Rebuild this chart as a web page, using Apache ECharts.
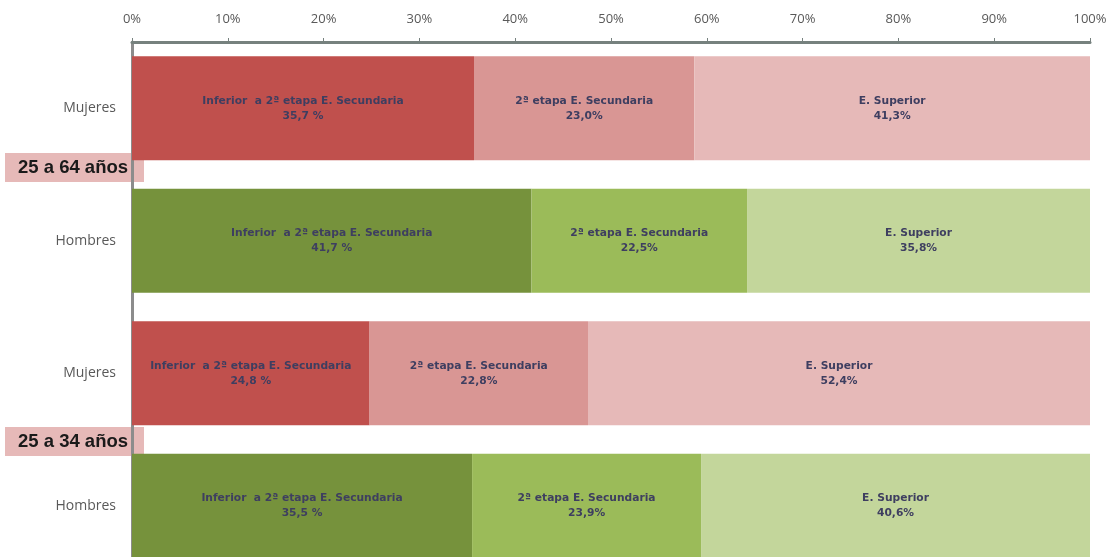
<!DOCTYPE html>
<html><head><meta charset="utf-8">
<script src="https://cdn.jsdelivr.net/npm/echarts@6/dist/echarts.min.js"></script>
<style>html,body{margin:0;padding:0;background:#fff;overflow:hidden;height:557px}#c{width:1110px;height:572px}</style>
</head><body><div id="c"></div>
<script>
const categories = ['Mujeres', 'Hombres', 'Mujeres', 'Hombres'];
const groupLabels = ['25 a 64 años', '25 a 34 años'];
const segmentNames = ['Inferior  a 2ª etapa E. Secundaria', '2ª etapa E. Secundaria', 'E. Superior'];
const inferior = [35.7, 41.7, 24.8, 35.5];
const segunda = [23.0, 22.5, 22.8, 23.9];
const superior = [41.3, 35.8, 52.4, 40.6];

const redShades = ['#C0504D', '#D99694', '#E6B9B8'];
const greenShades = ['#76923C', '#9BBB59', '#C3D69B'];

function fmt(v, space) { return v.toFixed(1).replace('.', ',') + (space ? ' %' : '%'); }

const seriesData = [inferior, segunda, superior];
const series = seriesData.map((arr, si) => ({
  type: 'bar', stack: 'total', name: segmentNames[si],
  barCategoryGap: '21.5%',
  data: arr.map((v, i) => ({
    value: v,
    itemStyle: { color: (categories[i] === 'Mujeres' ? redShades : greenShades)[si] }
  })),
  label: {
    show: true, position: 'inside',
    formatter: p => segmentNames[si] + '\n' + fmt(p.value, si === 0),
    color: '#3E3E60', fontSize: 10.7, fontWeight: 'bold', lineHeight: 15,
    fontFamily: 'DejaVu Sans, Verdana, sans-serif'
  }
}));

const chart = echarts.init(document.getElementById('c'));
chart.setOption({
  animation: false,
  grid: { left: 132, right: 20, top: 42, bottom: 0 },
  xAxis: {
    type: 'value', position: 'top', min: 0, max: 100, interval: 10,
    axisLine: { show: true, lineStyle: { color: '#76817E', width: 3 } },
    axisTick: { show: true, length: 4, lineStyle: { color: '#76817E' } },
    splitLine: { show: false },
    axisLabel: { formatter: v => v + '%', color: '#595959', fontSize: 13, margin: 16,
      fontFamily: 'Open Sans, Liberation Sans, sans-serif' }
  },
  yAxis: {
    type: 'category', data: categories, inverse: true,
    axisLine: { show: true, lineStyle: { color: '#8C8C8C', width: 3 } },
    axisTick: { show: false },
    axisLabel: { color: '#595959', fontSize: 14, margin: 16,
      fontFamily: 'Open Sans, Liberation Sans, sans-serif' }
  },
  series: series
});

const boxTops = [153, 427];
const ga = [];
groupLabels.forEach((t, g) => {
  ga.push({
    type: 'group', left: 5, top: boxTops[g], z: 100,
    children: [
      { type: 'rect', shape: { x: 0, y: 0, width: 139, height: 29 }, style: { fill: '#E6B9B8' } },
      { type: 'text', x: 13, y: 15, style: { text: t, fill: '#1a1a1a',
        font: 'bold 18.5px Liberation Sans, Arial, sans-serif', verticalAlign: 'middle' } }
    ]
  });
});
chart.setOption({ graphic: ga });
</script></body></html>
